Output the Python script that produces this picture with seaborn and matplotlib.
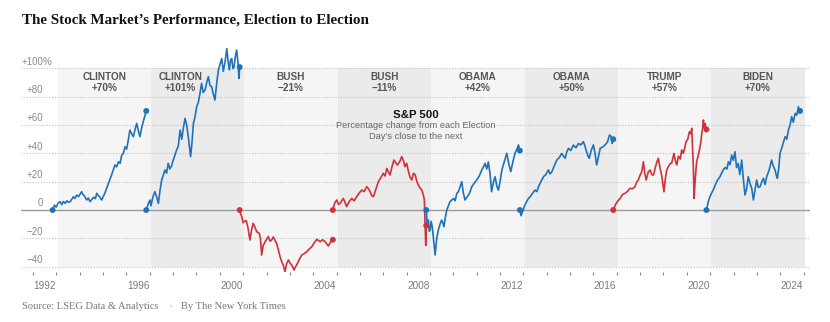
import matplotlib
matplotlib.use("Agg")
import matplotlib.pyplot as plt
import numpy as np
import pandas as pd
import seaborn as sns

# ---------------- data ----------------
presidents = ["CLINTON", "CLINTON", "BUSH", "BUSH", "OBAMA", "OBAMA", "TRUMP", "BIDEN"]
changes = ["+70%", "+101%", "−21%", "−11%", "+42%", "+50%", "+57%", "+70%"]
parties = ["D", "D", "R", "R", "D", "D", "R", "D"]
term_start = [1993.05, 1997.05, 2001.05, 2005.05, 2009.05, 2013.05, 2017.05, 2021.05]
term_end = [1997.05, 2001.05, 2005.05, 2009.05, 2013.05, 2017.05, 2021.05, 2025.05]
label_x = [1995.05, 1998.32, 2003.05, 2007.05, 2011.05, 2015.05, 2019.05, 2023.05]

y_ticks = [-40, -20, 0, 20, 40, 60, 80, 100]
y_tick_labels = ["−40", "−20", "0", "+20", "+40", "+60", "+80", "+100"]
year_labels = [1992, 1996, 2000, 2004, 2008, 2012, 2016, 2020, 2024]

c1_t = [1992.84, 1992.92, 1992.99, 1993.08, 1993.16, 1993.23, 1993.30, 1993.38, 1993.45, 1993.53,
        1993.60, 1993.73, 1993.80, 1993.87, 1993.95, 1994.08, 1994.14, 1994.20, 1994.30, 1994.37,
        1994.44, 1994.52, 1994.60, 1994.67, 1994.73, 1994.80, 1994.85, 1994.94, 1995.08, 1995.23,
        1995.37, 1995.51, 1995.58, 1995.66, 1995.73, 1995.80, 1995.87, 1995.94, 1996.01, 1996.08,
        1996.15, 1996.22, 1996.30, 1996.37, 1996.44, 1996.51, 1996.58, 1996.65, 1996.72, 1996.80,
        1996.85]
c1_v = [0, 3.5, 2.0, 5.0, 5.9, 3.8, 6.0, 4.7, 6.5, 5.5,
        6.0, 9.4, 8.2, 10.6, 9.5, 12.9, 11.0, 10.0, 7.1, 8.5,
        5.9, 7.5, 9.0, 8.0, 11.8, 10.0, 9.5, 7.1, 12.0, 18.8,
        25.0, 31.8, 30.5, 34.1, 33.0, 38.8, 40.0, 44.7, 43.0, 49.5,
        56.5, 54.0, 51.8, 57.0, 61.2, 56.0, 51.8, 57.7, 62.4, 67.1,
        70]

c2_t = [1996.85, 1996.95, 1997.01, 1997.05, 1997.14, 1997.22, 1997.30, 1997.37, 1997.44, 1997.51,
        1997.58, 1997.65, 1997.72, 1997.79, 1997.86, 1997.93, 1998.00, 1998.08, 1998.15, 1998.22,
        1998.30, 1998.37, 1998.44, 1998.51, 1998.58, 1998.65, 1998.75, 1998.81, 1998.87, 1998.94,
        1999.01, 1999.08, 1999.15, 1999.22, 1999.29, 1999.37, 1999.44, 1999.51, 1999.58, 1999.65,
        1999.72, 1999.79, 1999.87, 1999.94, 2000.01, 2000.08, 2000.15, 2000.22, 2000.30, 2000.36,
        2000.41, 2000.46, 2000.51, 2000.56, 2000.61, 2000.67, 2000.72, 2000.78, 2000.82, 2000.85]
c2_v = [0, 5.0, 7.1, 3.0, 9.5, 13.0, 9.0, 4.7, 14.0, 21.2,
        24.5, 28.3, 26.0, 33.0, 29.0, 31.0, 35.0, 38.9, 42.4, 45.0,
        56.5, 50.0, 58.0, 64.8, 60.0, 51.8, 37.7, 48.0, 61.2, 66.0,
        73.0, 76.0, 82.4, 89.5, 83.0, 84.8, 90.0, 94.2, 88.0, 87.1,
        82.0, 77.7, 90.0, 98.9, 103.0, 107.0, 98.0, 104.0, 114.0, 104.0,
        99.0, 106.0, 107.0, 100.0, 101.0, 109.0, 113.0, 104.0, 93.0, 101]

b1_t = [2000.85, 2000.90, 2000.94, 2001.00, 2001.04, 2001.13, 2001.20, 2001.29, 2001.36, 2001.43,
        2001.50, 2001.58, 2001.69, 2001.74, 2001.79, 2001.86, 2001.94, 2002.01, 2002.08, 2002.15,
        2002.22, 2002.29, 2002.36, 2002.44, 2002.51, 2002.58, 2002.65, 2002.72, 2002.79, 2002.86,
        2002.94, 2003.01, 2003.08, 2003.18, 2003.24, 2003.29, 2003.40, 2003.51, 2003.60, 2003.72,
        2003.83, 2003.94, 2004.05, 2004.15, 2004.22, 2004.30, 2004.40, 2004.51, 2004.58, 2004.65,
        2004.75, 2004.84]
b1_v = [0, -3.0, -4.7, -9.0, -8.2, -7.5, -12.0, -21.2, -14.0, -9.4,
        -12.0, -15.3, -16.5, -20.0, -31.8, -25.0, -22.4, -20.5, -18.8, -22.0,
        -21.2, -19.0, -21.2, -24.0, -28.3, -33.0, -36.5, -39.0, -43.6, -38.0,
        -35.3, -37.5, -38.9, -42.4, -40.0, -38.9, -35.0, -31.8, -31.0, -29.4,
        -27.5, -25.9, -23.0, -20.7, -21.5, -22.4, -21.0, -22.4, -24.0, -25.4,
        -22.4, -21]

b2_t = [2004.84, 2004.92, 2005.01, 2005.08, 2005.15, 2005.22, 2005.29, 2005.36, 2005.43, 2005.54,
        2005.65, 2005.75, 2005.86, 2005.97, 2006.08, 2006.18, 2006.29, 2006.37, 2006.44, 2006.51,
        2006.58, 2006.69, 2006.79, 2006.90, 2007.00, 2007.08, 2007.15, 2007.22, 2007.29, 2007.38,
        2007.46, 2007.53, 2007.60, 2007.70, 2007.79, 2007.86, 2007.93, 2008.00, 2008.08, 2008.15,
        2008.22, 2008.30, 2008.37, 2008.44, 2008.50, 2008.58, 2008.65, 2008.72, 2008.76, 2008.80,
        2008.82, 2008.84]
b2_v = [0, 5.0, 7.1, 4.0, 4.7, 6.5, 8.2, 5.5, 2.4, 6.0,
        8.2, 6.5, 9.4, 12.0, 14.1, 13.0, 16.5, 15.0, 12.9, 10.0,
        9.4, 15.0, 20.0, 23.0, 25.9, 24.0, 29.4, 27.0, 24.7, 31.0,
        35.3, 33.5, 31.8, 34.0, 37.7, 35.0, 30.6, 33.0, 27.1, 23.0,
        21.2, 26.0, 24.7, 20.0, 17.7, 15.5, 14.1, 10.5, 7.1, -15.0,
        -25.0, -11]

o1_t = [2008.84, 2008.88, 2008.93, 2008.97, 2009.01, 2009.05, 2009.10, 2009.15, 2009.22, 2009.29,
        2009.36, 2009.43, 2009.50, 2009.55, 2009.60, 2009.66, 2009.72, 2009.79, 2009.86, 2009.93,
        2010.01, 2010.08, 2010.15, 2010.22, 2010.29, 2010.36, 2010.43, 2010.50, 2010.58, 2010.65,
        2010.72, 2010.79, 2010.90, 2011.00, 2011.11, 2011.22, 2011.29, 2011.36, 2011.43, 2011.50,
        2011.57, 2011.64, 2011.72, 2011.79, 2011.86, 2011.93, 2012.00, 2012.08, 2012.18, 2012.29,
        2012.37, 2012.46, 2012.55, 2012.64, 2012.72, 2012.79, 2012.85]
o1_v = [0, -10.0, -7.1, -15.0, -14.0, -8.0, -12.0, -20.0, -31.8, -20.0,
        -14.1, -10.0, -7.1, -9.0, -11.8, -5.0, 0.0, 3.0, 5.9, 7.0,
        8.2, 6.5, 11.8, 13.0, 16.5, 20.0, 12.0, 7.1, 9.0, 10.6,
        13.0, 16.5, 19.0, 21.2, 24.0, 28.3, 30.5, 33.0, 29.0, 34.0,
        26.0, 12.9, 20.0, 23.5, 17.0, 14.0, 20.0, 28.3, 34.0, 40.0,
        33.0, 27.1, 34.0, 40.0, 43.0, 45.9, 42]

o2_t = [2012.85, 2012.90, 2012.97, 2013.05, 2013.14, 2013.21, 2013.29, 2013.40, 2013.50, 2013.58,
        2013.65, 2013.75, 2013.86, 2013.96, 2014.07, 2014.14, 2014.22, 2014.32, 2014.43, 2014.54,
        2014.64, 2014.72, 2014.79, 2014.86, 2014.93, 2015.03, 2015.14, 2015.25, 2015.36, 2015.46,
        2015.57, 2015.64, 2015.71, 2015.77, 2015.82, 2015.90, 2016.00, 2016.07, 2016.14, 2016.22,
        2016.29, 2016.40, 2016.50, 2016.60, 2016.69, 2016.76, 2016.80, 2016.85]
o2_v = [0, -4.0, -1.0, 3.0, 5.9, 8.0, 9.4, 12.0, 14.1, 13.0,
        16.5, 20.0, 23.5, 25.0, 28.3, 25.5, 27.0, 31.0, 35.3, 37.0,
        40.0, 38.0, 36.5, 41.0, 43.6, 42.0, 45.9, 44.0, 47.0, 46.0,
        48.3, 45.0, 41.0, 38.0, 36.5, 42.0, 46.0, 40.0, 31.8, 38.0,
        43.6, 44.5, 46.0, 48.0, 53.0, 52.0, 47.0, 50]

t_t = [2016.85, 2016.95, 2017.05, 2017.14, 2017.25, 2017.35, 2017.45, 2017.56, 2017.67, 2017.78,
       2017.86, 2017.92, 2018.00, 2018.07, 2018.14, 2018.20, 2018.26, 2018.35, 2018.43, 2018.50,
       2018.57, 2018.65, 2018.72, 2018.78, 2018.85, 2018.92, 2019.02, 2019.08, 2019.14, 2019.22,
       2019.30, 2019.35, 2019.45, 2019.52, 2019.57, 2019.64, 2019.72, 2019.78, 2019.85, 2019.92,
       2019.97, 2020.04, 2020.11, 2020.17, 2020.21, 2020.28, 2020.31, 2020.36, 2020.42, 2020.48,
       2020.54, 2020.60, 2020.64, 2020.68, 2020.71, 2020.75, 2020.79, 2020.82, 2020.84]
t_v = [0, 4.0, 6.5, 8.2, 11.0, 11.8, 13.0, 15.3, 15.0, 16.5,
       20.0, 21.2, 24.7, 27.1, 34.1, 26.0, 21.2, 27.0, 28.3, 25.0,
       24.7, 30.0, 34.1, 36.5, 30.0, 24.7, 12.9, 22.0, 28.3, 31.0,
       33.0, 33.0, 40.0, 34.0, 31.8, 38.0, 36.0, 42.4, 40.0, 44.7,
       48.3, 50.0, 55.3, 54.0, 57.7, 30.0, 8.2, 22.0, 34.1, 38.0,
       42.4, 48.0, 54.2, 58.0, 63.6, 58.0, 61.0, 55.3, 57]

bd_t = [2020.84, 2020.92, 2020.99, 2021.06, 2021.13, 2021.20, 2021.28, 2021.35, 2021.42, 2021.49,
        2021.56, 2021.64, 2021.72, 2021.78, 2021.85, 2021.92, 2021.99, 2022.06, 2022.13, 2022.20,
        2022.27, 2022.35, 2022.42, 2022.49, 2022.56, 2022.63, 2022.70, 2022.78, 2022.85, 2022.92,
        2022.99, 2023.06, 2023.14, 2023.21, 2023.28, 2023.35, 2023.42, 2023.52, 2023.63, 2023.70,
        2023.78, 2023.84, 2023.88, 2023.94, 2023.99, 2024.07, 2024.14, 2024.21, 2024.28, 2024.35,
        2024.42, 2024.49, 2024.56, 2024.64, 2024.71, 2024.78, 2024.82, 2024.85]
bd_v = [0, 6.0, 9.4, 12.0, 14.1, 17.0, 20.0, 22.0, 23.5, 26.0,
        28.3, 30.0, 29.0, 34.1, 32.0, 38.8, 35.0, 41.2, 30.0, 32.9,
        25.0, 35.3, 22.0, 10.6, 15.0, 23.5, 19.0, 15.3, 7.1, 14.0,
        21.2, 16.0, 16.5, 20.0, 22.4, 18.0, 23.5, 28.0, 35.3, 31.0,
        28.3, 24.0, 22.4, 30.0, 40.0, 44.0, 48.0, 51.8, 50.0, 56.5,
        60.0, 66.0, 62.0, 68.3, 67.0, 73.0, 69.0, 70]

series_t = [c1_t, c2_t, b1_t, b2_t, o1_t, o2_t, t_t, bd_t]
series_v = [c1_v, c2_v, b1_v, b2_v, o1_v, o2_v, t_v, bd_v]

# ---------------- styling ----------------
BLUE = "#1f72b8"
RED = "#cf3238"
party_color = {"D": BLUE, "R": RED}
BAND_LIGHT = "#f5f5f5"
BAND_DARK = "#ebebeb"

sns.set_theme(style="white")
plt.rcParams["font.family"] = ["Liberation Sans", "DejaVu Sans"]

rows = []
for i, (ts, vs) in enumerate(zip(series_t, series_v)):
    for t, v in zip(ts, vs):
        rows.append({"t": t, "v": v, "term": f"term{i}"})
df = pd.DataFrame(rows)
ends = pd.concat([df.groupby("term").head(1), df.groupby("term").tail(1)])
palette = {f"term{i}": party_color[p] for i, p in enumerate(parties)}

W, H = 830, 322
fig = plt.figure(figsize=(W / 100, H / 100), dpi=100)
ax_left, ax_right, ax_top, ax_bot = 21, 810, 44.4, 272.3
ax = fig.add_axes([ax_left / W, (H - ax_bot) / H, (ax_right - ax_left) / W, (ax_bot - ax_top) / H])
x0, x1 = 1991.486, 2025.275
ax.set_xlim(x0, x1)
ax.set_ylim(-44, 117)
for s in ax.spines.values():
    s.set_visible(False)
ax.set_facecolor("white")

# bands
for i, (s, e) in enumerate(zip(term_start, term_end)):
    ax.fill_between([s, e], -40.5, 100, color=BAND_LIGHT if i % 2 == 0 else BAND_DARK,
                    lw=0, zorder=0)
    ax.text(label_x[i], 94.2, presidents[i], ha="center", va="center", fontsize=7.2,
            fontweight="bold", color="#555555", zorder=2)
    ax.text(label_x[i], 86.0, changes[i], ha="center", va="center", fontsize=7.2,
            fontweight="bold", color="#555555", zorder=2)

# grid lines
for v in y_ticks:
    if v == 0:
        continue
    if v == 60:
        ax.plot([x0, 2004.93], [v, v], ls=(0, (1, 1.5)), color="#c2c2c2", lw=0.8, zorder=1)
        ax.plot([2011.87, x1], [v, v], ls=(0, (1, 1.5)), color="#c2c2c2", lw=0.8, zorder=1)
    else:
        ax.plot([x0, x1], [v, v], ls=(0, (1, 1.5)), color="#c2c2c2", lw=0.8, zorder=1)
ax.axhline(0, color="#9c9c9c", lw=1.0, zorder=1)

# y labels
ylab_x = (43 - ax_left) / (ax_right - ax_left)
for v, lab in zip(y_ticks, y_tick_labels):
    ax.annotate(lab, xy=(ylab_x, v), xycoords=ax.get_yaxis_transform(),
                xytext=(0, 2.7), textcoords="offset points", ha="right", va="baseline",
                fontsize=7, color="#8a8a8a")
ax.annotate("%", xy=(ylab_x, 100), xycoords=ax.get_yaxis_transform(),
            xytext=(0, 2.7), textcoords="offset points", ha="left", va="baseline",
            fontsize=7, color="#8a8a8a")

# lines
sns.lineplot(data=df, x="t", y="v", hue="term", palette=palette, estimator=None,
             sort=False, legend=False, lw=1.2, ax=ax, zorder=3)
sns.scatterplot(data=ends, x="t", y="v", hue="term", palette=palette, s=18,
                linewidth=0, legend=False, ax=ax, zorder=4)

# x ticks
ax.set_xticks(list(range(1992, 2026)))
ax.set_xticklabels([])
ax.tick_params(axis="x", which="major", length=2.3, width=0.8, color="#8a8a8a",
               direction="out", bottom=True)
ax.set_xticks([y + 0.5 for y in year_labels], minor=True)
ax.set_xticklabels([str(y) for y in year_labels], minor=True)
ax.tick_params(axis="x", which="minor", length=0, pad=6.0, labelsize=7.2,
               labelcolor="#7a7a7a", bottom=True)
ax.set_yticks([])
ax.set_xlabel("")
ax.set_ylabel("")

# annotation
ax.text(2008.40, 67.1, "S&P 500", ha="center", va="center", fontsize=8.2,
        fontweight="bold", color="#121212", zorder=5)
ax.text(2008.40, 59.4, "Percentage change from each Election", ha="center", va="center",
        fontsize=6.7, color="#666666", zorder=5)
ax.text(2008.40, 51.9, "Day’s close to the next", ha="center", va="center",
        fontsize=6.7, color="#666666", zorder=5)

# title and footer
fig.text(22 / W, 1 - 20 / H, "The Stock Market’s Performance, Election to Election",
         ha="left", va="center", family=["Liberation Serif", "DejaVu Serif"],
         fontweight="bold", fontsize=10.8, color="#121212")
fig.text(22 / W, 1 - 306.5 / H, "Source: LSEG Data & Analytics", ha="left", va="center",
         family=["Liberation Serif", "DejaVu Serif"], fontsize=7.6, color="#777777")
fig.text(171 / W, 1 - 306.5 / H, "•", ha="center", va="center", fontsize=5,
         color="#d0d0d0")
fig.text(181 / W, 1 - 306.5 / H, "By The New York Times", ha="left", va="center",
         family=["Liberation Serif", "DejaVu Serif"], fontsize=7.6, color="#777777")

fig.savefig("out.png", dpi=100, facecolor="white")
